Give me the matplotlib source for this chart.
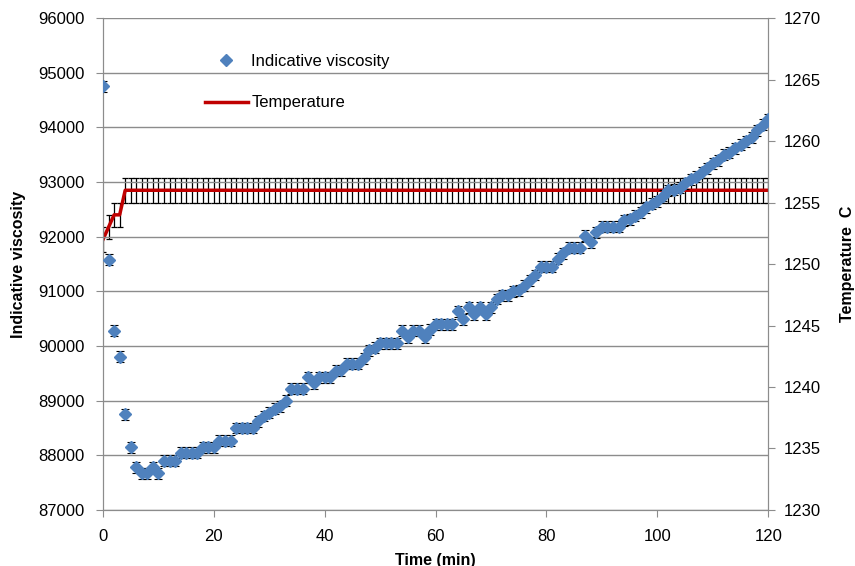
import numpy as np
import matplotlib.pyplot as plt

plt.rcParams['font.family'] = ['Liberation Sans', 'DejaVu Sans']

time_min = np.arange(0, 121)

viscosity = [
    94750, 91580, 90280, 89800, 88750, 88150, 87780, 87670, 87670, 87780,
    87670, 87900, 87900, 87900, 88050, 88050, 88050, 88050, 88150, 88150,
    88150, 88270, 88270, 88270, 88500, 88500, 88500, 88500, 88620, 88720,
    88780, 88850, 88900, 89000, 89220, 89220, 89220, 89430, 89320, 89430,
    89430, 89430, 89550, 89560, 89680, 89680, 89680, 89780, 89920, 89970,
    90050, 90050, 90050, 90050, 90280, 90160, 90280, 90280, 90160, 90300,
    90400, 90400, 90400, 90400, 90640, 90490, 90710, 90580, 90710, 90580,
    90710, 90860, 90930, 90930, 91000, 91020, 91100, 91200, 91300, 91450,
    91450, 91450, 91600, 91700, 91800, 91800, 91800, 92020, 91900, 92080,
    92180, 92180, 92180, 92180, 92300, 92320, 92380, 92450, 92540, 92600,
    92650, 92750, 92850, 92860, 92900, 92980, 93050, 93100, 93180, 93250,
    93340, 93400, 93500, 93540, 93620, 93680, 93750, 93820, 93950, 94050,
    94150,
]
visc_err = 100

temperature = [1252, 1253, 1254, 1254] + [1256] * 117
temp_err = 1.0

blue = '#4F81BD'
red = '#C00000'
grid_col = '#8C8C8C'

fig = plt.figure(figsize=(8.55, 5.66), dpi=100)
ax = fig.add_axes([0.1205, 0.099, 0.778, 0.869])

ax.errorbar(time_min, viscosity, yerr=visc_err, fmt='D', color=blue,
            markersize=6.3, ecolor='black', elinewidth=0.8, capsize=2.8,
            capthick=0.8, zorder=3, label='Indicative viscosity')

ax.set_xlim(0, 120)
ax.set_ylim(87000, 96000)
ax.set_xticks(np.arange(0, 121, 20))
ax.set_yticks(np.arange(87000, 96001, 1000))
ax.yaxis.grid(True, color=grid_col, linewidth=1)
ax.set_axisbelow(True)
ax.tick_params(labelsize=12, color=grid_col, length=5, pad=8)
ax.tick_params(axis='x', pad=9)
for s in ['left', 'right', 'bottom']:
    ax.spines[s].set_color(grid_col)
ax.spines['top'].set_visible(False)
ax.set_ylabel('Indicative viscosity', fontsize=11.5, fontweight='bold', labelpad=9)
ax.set_xlabel('Time (min)', fontsize=11.5, fontweight='bold', labelpad=6)

ax2 = ax.twinx()
ax2.errorbar(time_min, temperature, yerr=temp_err, fmt='-', color=red,
             linewidth=2.5, ecolor='black', elinewidth=0.9, capsize=2.3,
             capthick=0.9, zorder=2, label='Temperature')
ax2.set_ylim(1230, 1270)
ax2.set_yticks(np.arange(1230, 1271, 5))
ax2.tick_params(labelsize=12, color=grid_col, length=5, pad=6)
for s in ['left', 'right', 'bottom']:
    ax2.spines[s].set_color(grid_col)
ax2.spines['top'].set_visible(False)
ax2.set_ylabel('Temperature  C', fontsize=11.5, fontweight='bold', labelpad=14)

# bring viscosity points above the temperature line
ax.set_zorder(ax2.get_zorder() + 1)
ax.patch.set_visible(False)

h1 = plt.Line2D([], [], marker='D', color=blue, linestyle='none', markersize=6)
h2 = plt.Line2D([], [], color=red, linewidth=2.5)
leg = ax.legend([h1, h2], ['Indicative viscosity', 'Temperature'],
                loc='upper left', bbox_to_anchor=(0.13, 0.958), frameon=False,
                fontsize=12, handlelength=2.6, handletextpad=0.2,
                labelspacing=1.6)

fig.savefig('out.png', dpi=100)
